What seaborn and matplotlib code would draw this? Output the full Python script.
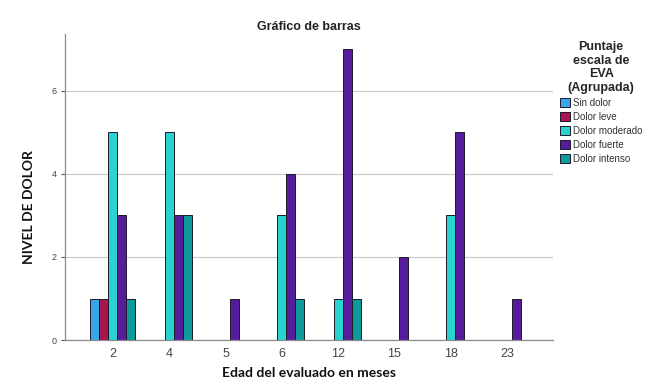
import pandas as pd
import matplotlib.pyplot as plt
import seaborn as sns

# edad en meses (categorias del eje x)
edades = ["2", "4", "5", "6", "12", "15", "18", "23"]
niveles = ["Sin dolor", "Dolor leve", "Dolor moderado", "Dolor fuerte", "Dolor intenso"]

# conteos por nivel (None = sin barra)
sin_dolor = [1, None, None, None, None, None, None, None]
dolor_leve = [1, None, None, None, None, None, None, None]
dolor_moderado = [5, 5, None, 3, 1, None, 3, None]
dolor_fuerte = [3, 3, 1, 4, 7, 2, 5, 1]
dolor_intenso = [1, 3, None, 1, 1, None, None, None]

colores = ["#3aa6ea", "#a8164e", "#2bd2d2", "#561c9c", "#0c9a9a"]

rows = []
for nivel, vals in zip(niveles, [sin_dolor, dolor_leve, dolor_moderado, dolor_fuerte, dolor_intenso]):
    for edad, v in zip(edades, vals):
        if v is not None:
            rows.append((edad, nivel, v))
df = pd.DataFrame(rows, columns=["edad", "nivel", "conteo"])

sns.set_theme(style="white")
plt.rcParams["font.family"] = ["Liberation Sans", "DejaVu Sans"]

fig = plt.figure(figsize=(6.57, 3.87), dpi=100)
ax = fig.add_axes([0.099, 0.1214, 0.743, 0.7906])

sns.barplot(data=df, x="edad", y="conteo", hue="nivel", order=edades,
            hue_order=niveles, palette=colores, width=0.8, saturation=1,
            edgecolor="#1a1a2a", linewidth=0.7, ax=ax)

ax.set_xlim(-0.85, 7.82)
ax.set_ylim(0, 7.37)
ax.set_yticks([0, 2, 4, 6])
ax.yaxis.grid(True, color="#c8c8c8", linewidth=0.8)
ax.set_axisbelow(True)
for s in ["top", "right"]:
    ax.spines[s].set_visible(False)
for s in ["left", "bottom"]:
    ax.spines[s].set_color("#8c8c8c")
    ax.spines[s].set_linewidth(0.9)
ax.tick_params(axis="x", colors="#555555", labelsize=9, length=0, pad=6)
ax.tick_params(axis="y", colors="#555555", labelsize=6.5, length=3, left=True, width=0.8, pad=3)
for lab in ax.get_xticklabels() + ax.get_yticklabels():
    lab.set_color("#444444")

ax.set_xlabel("Edad del evaluado en meses", fontsize=10, fontweight="bold",
              family=["Lato", "DejaVu Sans"], color="#111111", labelpad=5)
ax.set_ylabel("NIVEL DE DOLOR", fontsize=10, fontweight="bold",
              family=["Lato", "DejaVu Sans"], color="#111111")
ax.yaxis.set_label_coords(-0.062, 0.435)
ax.set_title("Gráfico de barras", fontsize=9, fontweight="bold", color="#222222", pad=3)

leg = ax.legend(title="Puntaje\nescala de\nEVA\n(Agrupada)", loc="upper left",
                bbox_to_anchor=(1.0, 1.0), frameon=False, fontsize=7,
                title_fontproperties={"weight": "bold", "size": 9},
                handlelength=1.0, handleheight=1.0, handletextpad=0.3,
                labelspacing=0.4, borderaxespad=0.3)
leg.get_title().set_multialignment("center")
for t in leg.get_texts():
    t.set_color("#333333")

fig.savefig("out.png", dpi=100)
